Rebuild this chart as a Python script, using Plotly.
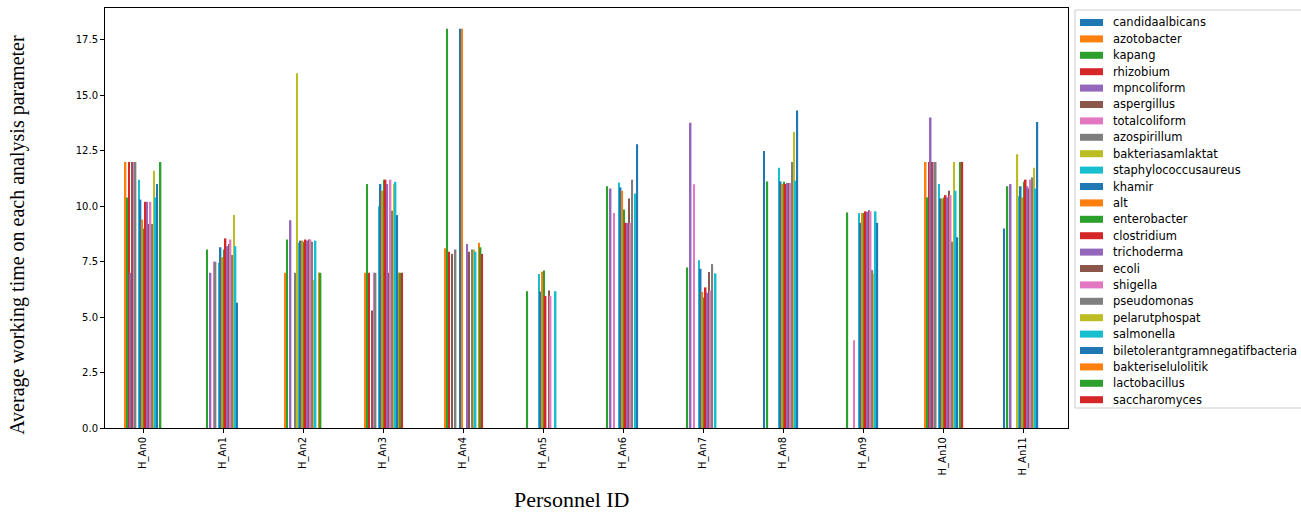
import plotly.graph_objects as go

categories = ["H_An0", "H_An1", "H_An2", "H_An3", "H_An4", "H_An5",
              "H_An6", "H_An7", "H_An8", "H_An9", "H_An10", "H_An11"]

series_names = ["candidaalbicans", "azotobacter", "kapang", "rhizobium", "mpncoliform",
                "aspergillus", "totalcoliform", "azospirillum", "bakteriasamlaktat",
                "staphylococcusaureus", "khamir", "alt", "enterobacter", "clostridium",
                "trichoderma", "ecoli", "shigella", "pseudomonas", "pelarutphospat",
                "salmonella", "biletolerantgramnegatifbacteria", "bakteriselulolitik",
                "lactobacillus", "saccharomyces"]

candidaalbicans = [0, 0, 0, 0, 0, 0, 0, 0, 12.49, 0, 0, 9.0]
azotobacter = [12.0, 0, 7.0, 7.0, 8.1, 0, 0, 0, 0, 0, 12.0, 0]
kapang = [10.4, 8.05, 8.5, 11.0, 18.0, 6.17, 10.9, 7.24, 11.12, 9.72, 10.4, 10.9]
rhizobium = [12.0, 0, 0, 7.0, 7.95, 0, 0, 0, 0, 0, 12.0, 0]
mpncoliform = [7.0, 7.0, 9.37, 0, 0, 0, 10.8, 13.77, 0, 0, 14.0, 11.0]
aspergillus = [12.0, 0, 0, 5.3, 7.85, 0, 0, 0, 0, 0, 12.0, 0]
totalcoliform = [12.0, 7.5, 0, 7.0, 0, 0, 9.7, 10.99, 0, 3.96, 12.0, 0]
azospirillum = [12.0, 7.5, 7.0, 7.0, 8.05, 0, 0, 0, 0, 0, 12.0, 0]
bakteriasamlaktat = [0, 0, 16.0, 0, 0, 0, 0, 0, 0, 0, 0, 12.34]
staphylococcusaureus = [11.2, 7.45, 8.35, 10.0, 0, 6.95, 11.07, 7.57, 11.74, 9.7, 11.0, 10.45]
khamir = [10.3, 8.15, 8.45, 11.0, 18.0, 6.15, 10.85, 7.18, 11.12, 9.25, 10.35, 10.9]
alt = [9.4, 7.7, 8.45, 10.7, 18.0, 7.05, 10.7, 6.14, 11.0, 9.7, 10.35, 10.4]
enterobacter = [9.0, 8.05, 8.4, 11.2, 0, 7.1, 9.85, 5.89, 11.1, 9.7, 10.4, 11.1]
clostridium = [10.2, 8.55, 8.5, 11.2, 0, 5.95, 9.25, 6.34, 11.0, 9.77, 10.5, 11.2]
trichoderma = [10.2, 8.2, 8.45, 11.0, 8.3, 0, 9.25, 6.1, 11.05, 9.75, 10.4, 10.9]
ecoli = [9.2, 8.3, 8.5, 7.0, 7.95, 6.2, 10.35, 7.04, 11.05, 9.82, 10.7, 10.8]
shigella = [10.2, 8.5, 8.5, 11.2, 0, 5.95, 9.25, 6.2, 11.05, 9.77, 10.5, 11.2]
pseudomonas = [9.2, 7.8, 8.4, 9.8, 8.05, 0, 11.2, 7.39, 12.0, 7.12, 8.4, 11.3]
pelarutphospat = [11.6, 9.6, 6.67, 11.0, 8.05, 0, 0, 0, 13.35, 6.97, 12.0, 11.74]
salmonella = [10.4, 8.2, 8.45, 11.1, 7.95, 6.17, 10.57, 6.97, 11.15, 9.77, 10.7, 10.8]
biletolerantgramnegatifbacteria = [11.0, 5.65, 0, 9.6, 0, 0, 12.8, 0, 14.32, 9.25, 8.6, 13.8]
bakteriselulolitik = [0, 0, 7.0, 7.0, 8.35, 0, 0, 0, 0, 0, 0, 0]
lactobacillus = [12.0, 0, 7.0, 7.0, 8.15, 0, 0, 0, 0, 0, 12.0, 0]
saccharomyces = [0, 0, 0, 7.0, 7.85, 0, 0, 0, 0, 0, 12.0, 0]

series_values = [candidaalbicans, azotobacter, kapang, rhizobium, mpncoliform,
                 aspergillus, totalcoliform, azospirillum, bakteriasamlaktat,
                 staphylococcusaureus, khamir, alt, enterobacter, clostridium,
                 trichoderma, ecoli, shigella, pseudomonas, pelarutphospat,
                 salmonella, biletolerantgramnegatifbacteria, bakteriselulolitik,
                 lactobacillus, saccharomyces]

y_ticks = [0.0, 2.5, 5.0, 7.5, 10.0, 12.5, 15.0, 17.5]

tab10 = ["#1f77b4", "#ff7f0e", "#2ca02c", "#d62728", "#9467bd",
         "#8c564b", "#e377c2", "#7f7f7f", "#bcbd22", "#17becf"]

xpos = list(range(len(categories)))

# plot area in pixels (for converting legend placement to paper coords)
PL, PR, PT, PB = 105, 1068, 8, 428
def px_x(px):
    return (px - PL) / (PR - PL)
def px_y(py):
    return (PB - py) / (PB - PT)

fig = go.Figure()
for i, (name, vals) in enumerate(zip(series_names, series_values)):
    fig.add_trace(go.Bar(x=xpos, y=vals, name=name, showlegend=False,
                         marker=dict(color=tab10[i % 10], line=dict(width=0))))

# matplotlib-style legend drawn as shapes + text
shapes = [dict(type="rect", xref="paper", yref="paper",
               x0=px_x(1075), x1=px_x(1305), y0=px_y(408), y1=px_y(10),
               line=dict(color="#cccccc", width=1), fillcolor="white", layer="above")]
annotations = []
row0, step = 22.5, 16.4
for i, name in enumerate(series_names):
    cy = row0 + step * i
    shapes.append(dict(type="rect", xref="paper", yref="paper",
                       x0=px_x(1080), x1=px_x(1103), y0=px_y(cy + 3.5), y1=px_y(cy - 3.5),
                       line=dict(width=0), fillcolor=tab10[i % 10], layer="above"))
    annotations.append(dict(text=name, xref="paper", yref="paper",
                            x=px_x(1111), y=px_y(cy), xanchor="left", yanchor="middle",
                            showarrow=False,
                            font=dict(family="DejaVu Sans", size=11.5, color="black")))

annotations += [
    dict(text="Personnel ID", xref="paper", yref="paper", x=0.484, y=-0.171,
         xanchor="center", yanchor="middle", showarrow=False,
         font=dict(family="Liberation Serif", size=22, color="black")),
    dict(text="Average working time on each analysis parameter", xref="paper",
         yref="paper", x=-0.0903, y=0.46, xanchor="center", yanchor="middle",
         textangle=-90, showarrow=False,
         font=dict(family="Liberation Serif", size=20, color="black")),
]

fig.update_layout(
    width=1301, height=512,
    margin=dict(l=PL, r=1301 - PR, t=PT, b=512 - PB),
    paper_bgcolor="white", plot_bgcolor="white",
    barmode="group", bargap=0.5, bargroupgap=0,
    font=dict(family="DejaVu Sans", size=10, color="black"),
    showlegend=False,
    xaxis=dict(range=[-0.475, 11.56], tickmode="array", tickvals=xpos,
               ticktext=categories, tickangle=-90,
               showline=True, linecolor="black", linewidth=1, mirror=True,
               ticks="outside", ticklen=4, tickcolor="black",
               showgrid=False, zeroline=False),
    yaxis=dict(range=[0, 18.94], tickmode="array", tickvals=y_ticks,
               ticktext=[f"{v:.1f}" for v in y_ticks],
               showline=True, linecolor="black", linewidth=1, mirror=True,
               ticks="outside", ticklen=4, tickcolor="black",
               showgrid=False, zeroline=False),
    shapes=shapes,
    annotations=annotations,
)

fig.write_html("out.html")
